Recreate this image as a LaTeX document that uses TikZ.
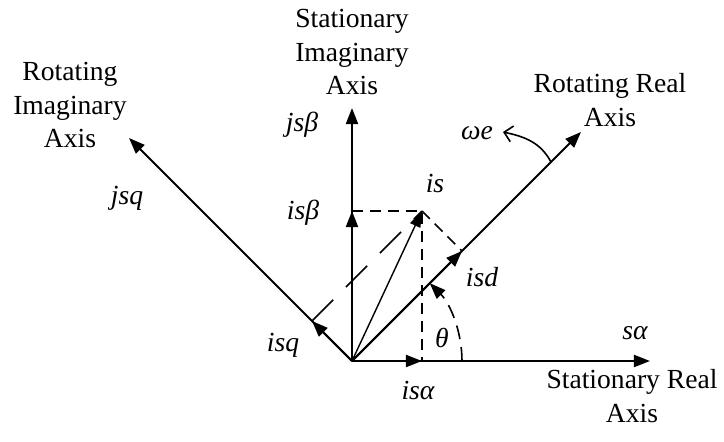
\documentclass[tikz,border=0pt]{standalone}
\usepackage{fontspec}
\setmainfont{Liberation Serif}
\usetikzlibrary{arrows.meta}
\tikzset{
  vaxis/.style={line width=1pt,-{Triangle[length=8pt,width=6pt]}},
  vthin/.style={line width=0.7pt,-{Triangle[length=8pt,width=5.5pt]}},
  vdash/.style={line width=0.8pt,dash pattern=on 5.5pt off 3.5pt},
  vlong/.style={line width=0.8pt,dash pattern=on 15pt off 9pt},
  vtxt/.style={font=\fontsize{13.8}{16.8}\selectfont,align=center,inner sep=0pt},
  vlab/.style={font=\fontsize{13.8}{16.8}\selectfont\itshape,inner sep=0pt},
}
\begin{document}
\begin{tikzpicture}[x=0.5pt,y=0.5pt]
\useasboundingbox (-352,-80) rectangle (372,361);
% stationary and rotating frames
\coordinate (O) at (0,0);
\coordinate (sA) at (298,0);
\coordinate (sB) at (0,253);
\coordinate (rD) at (229,229);
\coordinate (rQ) at (-223,223);
% current vector and its components
\coordinate (iS) at (70,150);
\coordinate (iA) at (70,0);
\coordinate (iB) at (0,150);
\coordinate (iD) at (110,110);
\coordinate (iQ) at (-40,40);
\coordinate (wS) at (199,199);
\coordinate (wE) at (151,229);
% projections
\draw[vdash] (iB) -- (iS) -- (iA);
\draw[vdash] (iS) -- (iD);
\draw[vlong] (iQ) -- (iS);
% axes
\draw[vaxis] (O) -- (sA);
\draw[vaxis] (O) -- (sB);
\draw[vaxis] (O) -- (rD);
\draw[vaxis] (O) -- (rQ);
% components on the axes
\draw[vaxis] (O) -- (iA);
\draw[vaxis] (O) -- (iB);
\draw[vaxis] (O) -- (iD);
\draw[vaxis] (O) -- (iQ);
\draw[vthin] (O) -- (iS);
% angle and rotation
\draw[vdash,dash pattern=on 7pt off 4pt,-{Triangle[length=8pt,width=6pt]}] (O) ++(0:110) arc[start angle=0,end angle=45,radius=55pt];
\draw[line width=0.8pt,-{Straight Barb[length=4pt,width=8pt]}] (wS) to[out=118,in=-12] (wE);
% axis names
\node[vtxt] (tSI) at (0,309) {Stationary\\Imaginary\\Axis};
\node[vtxt] (tRI) at (-282,256) {Rotating\\Imaginary\\Axis};
\node[vtxt] (tRR) at (258,261) {Rotating Real\\Axis};
\node[vtxt] (tSR) at (280,-35) {Stationary Real\\Axis};
% labels
\node[vlab] (lJB) at (-50,236) {jsβ};
\node[vlab] (lJQ) at (-225,163) {jsq};
\node[vlab] (lB) at (-49,148) {isβ};
\node[vlab] (lQ) at (-69,16) {isq};
\node[vlab] (lA) at (66,-29) {isα};
\node[vlab] (lT) at (90,23) {θ};
\node[vlab] (lD) at (130,84) {isd};
\node[vlab] (lS) at (83,178) {is};
\node[vlab] (lW) at (125,228) {ωe};
\node[vlab] (lSA) at (283,28) {sα};
\end{tikzpicture}
\end{document}
